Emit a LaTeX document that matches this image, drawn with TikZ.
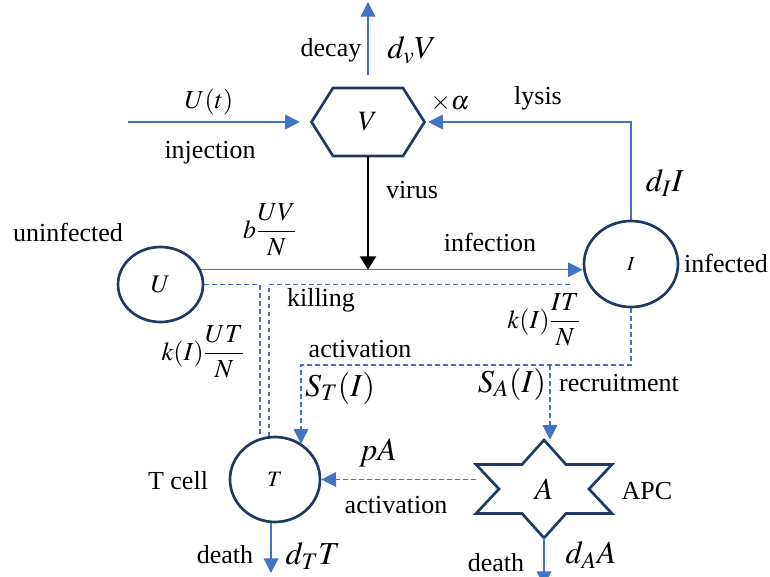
\documentclass[tikz,border=0pt]{standalone}
\usepackage{amsmath}
\usepackage{mathptmx}
\usepackage{fontspec}
\setmainfont{Liberation Serif}
\usetikzlibrary{shapes.geometric}
\usetikzlibrary{arrows.meta}

\definecolor{flowblue}{HTML}{4472C4}
\definecolor{cellnavy}{HTML}{203864}

\tikzset{
  cell/.style={ellipse, draw=cellnavy, line width=2pt, inner sep=0pt},
  shapeline/.style={draw=cellnavy, line width=2pt, line join=miter},
  flow/.style={flowblue, line width=1pt, -{Triangle[length=11pt, width=11pt]}},
  dflow/.style={flow, dash pattern=on 3.5pt off 2.5pt},
  kill/.style={flowblue, line width=1pt, dash pattern=on 3.5pt off 2.5pt},
  vir/.style={black, line width=1.5pt, -{Triangle[length=10pt, width=12pt]}},
  txt/.style={font=\fontsize{19.5}{22}\selectfont},
  lab/.style={font=\fontsize{24}{28}\selectfont},
}

\begin{document}
\begin{tikzpicture}[x=0.75pt, y=-0.75pt]
  \useasboundingbox (0,0) rectangle (770,577);
  % virus (hexagon)
  \node[minimum width=84.75pt, minimum height=51pt, inner sep=0pt,
    font=\fontsize{21}{24}\selectfont] (V) at (368,122) {$V$};
  \draw[shapeline, shift={(V.center)}] (-56.5,0) -- (-35,-34) -- (35,-34)
    -- (56.5,0) -- (35,34) -- (-35,34) -- cycle;
  % cells
  \node[cell, minimum width=63.75pt, minimum height=56.25pt,
    font=\fontsize{19}{22}\selectfont] (U) at (160.5,284.5) {$U$};
  \node[cell, minimum width=70.5pt, minimum height=64.5pt,
    font=\fontsize{15}{18}\selectfont] (I) at (631,264) {$I$};
  \node[cell, minimum width=67.5pt, minimum height=63.75pt,
    font=\fontsize{16.5}{20}\selectfont] (T) at (275,479.5) {$T$};
  % APC (star)
  \node[minimum width=102pt, minimum height=73.5pt, inner sep=0pt,
    font=\fontsize{23}{26}\selectfont] (A) at (544,489) {$A$};
  \draw[shapeline, shift={(A.center)}] (0,-49) -- (22,-24.5) -- (68,-24.5)
    -- (45,0) -- (68,24.5) -- (22,24.5) -- (0,49) -- (-22,24.5)
    -- (-68,24.5) -- (-45,0) -- (-68,-24.5) -- (-22,-24.5) -- cycle;

  % free ends
  \coordinate (inj) at (128,122);
  \coordinate (vout) at (368,2);
  \coordinate (ik) at (570,284.5);
  \coordinate (act) at (301,365);
  \coordinate (rec) at (550,365);
  \coordinate (td) at (271,573);
  \coordinate (ad) at (544,586);

  % decay, injection, lysis
  \draw[flow, shorten <=9.75pt] (V.north) -- (vout);
  \draw[flow, shorten >=8.6pt] (inj) -- (V.west);
  \draw[flow, shorten >=2.6pt] (I.north) |- (V.east);
  % infection
  \draw[vir] (V.south) -- (V.south |- U.20);
  \draw[flow] (U.20) -- (U.20 -| I.west);
  % killing
  \draw[kill] (U.east) -| ([xshift=-11.25pt]T.north);
  \draw[kill] (ik) -| ([xshift=-4.5pt]T.north);
  % activation, recruitment
  \draw[dflow] (I.south) |- (act) -- (act |- T.53);
  \draw[dflow] (rec) -- (rec |- A.north);
  \draw[dflow] (A.west |- T.east) -- (T.east);
  % death
  \draw[flow] (td |- T.south) -- (td);
  \draw[flow] (A.south) -- (ad);

  % labels
  \node[txt] (decayL) at (331,50) {decay};
  \node[lab] (dvV) at (412,50) {$d_vV$};
  \node[txt] (Ut) at (209,102) {$U(t)$};
  \node[txt] (injL) at (210,153) {injection};
  \node[txt] (alphaL) at (450,103) {$\times\alpha$};
  \node[txt] (lysisL) at (538,98) {lysis};
  \node[txt] (virusL) at (412,190) {virus};
  \node[lab] (dII) at (665,183) {$d_II$};
  \node[txt] (bUV) at (270,230) {$b\dfrac{UV}{N}$};
  \node[txt] (uninfL) at (68,232) {uninfected};
  \node[txt] (infL) at (490,242) {infection};
  \node[txt] (infdL) at (726,263) {infected};
  \node[txt] (killL) at (321,300) {killing};
  \node[txt] (kIT) at (544,320) {$k(I)\dfrac{IT}{N}$};
  \node[txt] (kUT) at (203,352) {$k(I)\dfrac{UT}{N}$};
  \node[txt] (actL) at (360,349) {activation};
  \node[lab] (ST) at (340,388) {$S_T(I)$};
  \node[lab] (SA) at (512,384) {$S_A(I)$};
  \node[txt] (recL) at (619,383) {recruitment};
  \node[txt] (tcellL) at (178,481) {T cell};
  \node[lab] (pA) at (378,453) {$pA$};
  \node[txt] (act2L) at (396,505) {activation};
  \node[txt] (apcL) at (647,491) {APC};
  \node[txt] (deathT) at (225,555) {death};
  \node[lab] (dTT) at (313,556) {$d_TT$};
  \node[txt] (deathA) at (496,563) {death};
  \node[lab] (dAA) at (591,555) {$d_AA$};
\end{tikzpicture}
\end{document}
